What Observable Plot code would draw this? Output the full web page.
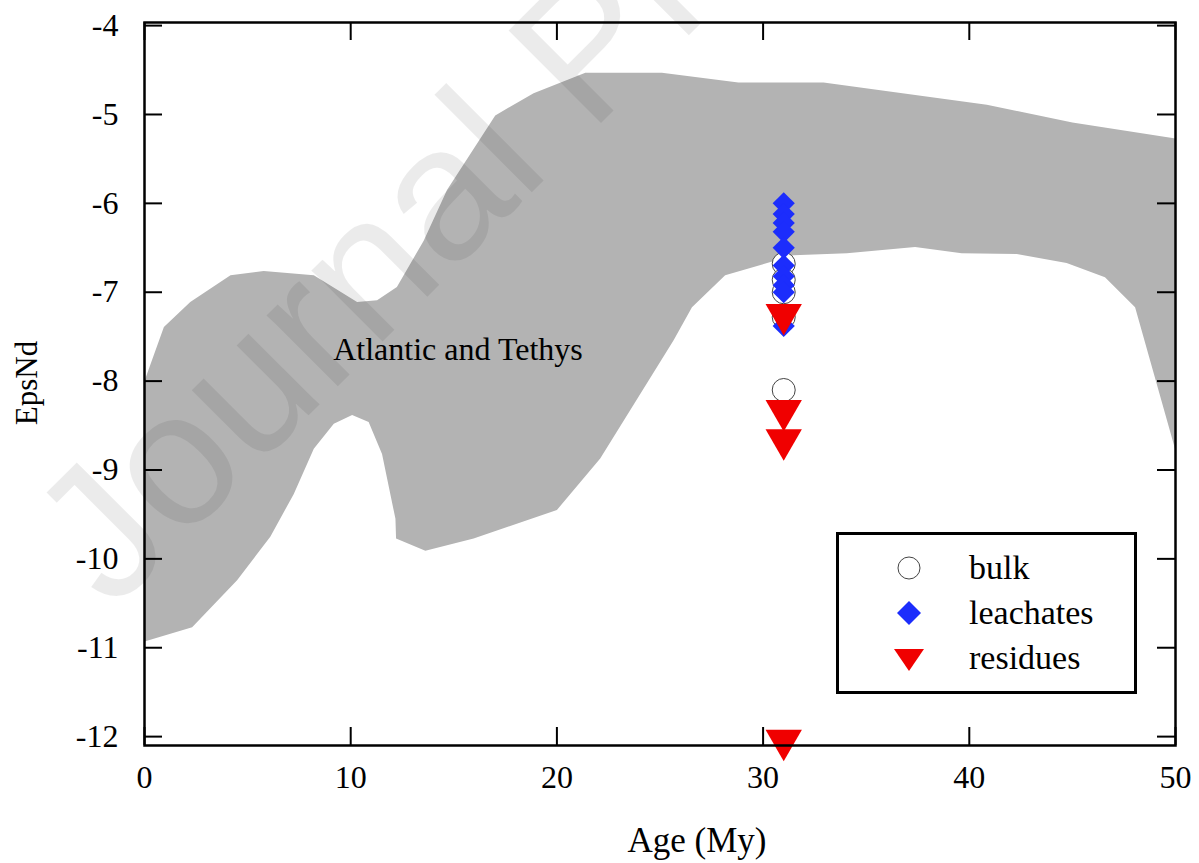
<!DOCTYPE html>
<html><head><meta charset="utf-8">
<script src="https://cdn.jsdelivr.net/npm/d3@7"></script>
<script src="https://cdn.jsdelivr.net/npm/@observablehq/plot@0.6"></script>
<style>
body{margin:0;background:#fff;}
#wrap{position:relative;width:1199px;height:863px;overflow:hidden;}
#legend{position:absolute;left:836px;top:532px;width:295px;height:156px;border:3px solid #000;background:#fff;}
#wm{position:absolute;left:0;top:0;pointer-events:none;}
</style></head><body><div id="wrap"></div>
<script>
// Envelope "Atlantic and Tethys": upper and lower boundaries
const upperAge = [0, 0.94, 2.22, 4.17, 5.78, 8.21, 10.31, 11.28, 12.24, 13.54, 14.67, 17.01, 18.87, 21.38, 25.09, 28.8, 32.93, 40.85, 45.0, 50];
const upperEps = [-8.0, -7.39, -7.11, -6.81, -6.76, -6.81, -7.11, -7.09, -6.94, -6.42, -5.85, -5.01, -4.76, -4.53, -4.53, -4.64, -4.64, -4.89, -5.09, -5.27];
const lowerAge = [50, 48.04, 46.58, 44.72, 42.3, 39.63, 37.37, 34.06, 31.47, 28.16, 26.55, 25.66, 22.1, 20.0, 15.96, 13.62, 12.2, 12.17, 11.52, 10.87, 10.07, 9.18, 8.21, 7.24, 6.1, 4.49, 2.31, 0];
const lowerEps = [-8.78, -7.17, -6.83, -6.67, -6.57, -6.56, -6.49, -6.56, -6.585, -6.81, -7.17, -7.54, -8.87, -9.45, -9.77, -9.91, -9.77, -9.55, -8.82, -8.46, -8.38, -8.48, -8.76, -9.27, -9.75, -10.24, -10.77, -10.93];

// Samples
const sampleAge = 31;
const bulkEps = [-6.68, -6.86, -7.0, -7.28, -8.1];
const leachateEps = [-6.0, -6.12, -6.22, -6.32, -6.5, -6.7, -6.82, -6.92, -7.0, -7.38];
const residueEps = [-7.25, -8.33, -8.66, -12.04];

const xTicks = [0, 10, 20, 30, 40, 50];
const yTicks = [-4, -5, -6, -7, -8, -9, -10, -11, -12];
const legendLabels = ["bulk", "leachates", "residues"];
const regionLabel = "Atlantic and Tethys";
const regionLabelPos = {x: 9.15, y: -7.65};

const envelope = [
  ...upperAge.map((a, i) => ({age: a, eps: upperEps[i]})),
  ...lowerAge.map((a, i) => ({age: a, eps: lowerEps[i]}))
];
const bulk = bulkEps.map(e => ({age: sampleAge, eps: e}));
const leach = leachateEps.map(e => ({age: sampleAge, eps: e}));
const resid = residueEps.map(e => ({age: sampleAge, eps: e}));

const FONT = "'Liberation Serif','Times New Roman',serif";
const BLUE = "#1c2dfc", RED = "#f00000";

const frameH = 863 - 22 - 118, frameW = 1199 - 144 - 24, TL = 18;

const plot = Plot.plot({
  width: 1199, height: 863,
  marginTop: 22, marginRight: 24, marginBottom: 118, marginLeft: 144,
  style: {fontFamily: FONT, fontSize: "32px", background: "white", color: "black"},
  x: {domain: [0, 50], ticks: xTicks, label: null},
  y: {domain: [-12.1, -3.965], ticks: yTicks, label: null},
  marks: [
    Plot.line(envelope, {x: "age", y: "eps", fill: "#b3b3b3", stroke: "none", curve: "linear"}),
    Plot.text([regionLabel], {x: () => regionLabelPos.x, y: () => regionLabelPos.y, text: d => d, textAnchor: "start", fontSize: 32, fill: "black"}),
    // ticks (inward, all four sides)
    Plot.ruleX(xTicks, {x: d => d, insetTop: frameH - TL, stroke: "black", strokeWidth: 2}),
    Plot.ruleX(xTicks, {x: d => d, insetBottom: frameH - TL, stroke: "black", strokeWidth: 2}),
    Plot.ruleY(yTicks, {y: d => d, insetRight: frameW - TL, stroke: "black", strokeWidth: 2}),
    Plot.ruleY(yTicks, {y: d => d, insetLeft: frameW - TL, stroke: "black", strokeWidth: 2}),
    Plot.axisX(xTicks, {tickSize: 0, tickPadding: 20, tickFormat: d => String(d), label: null, fontSize: 32}),
    Plot.axisY(yTicks, {tickSize: 0, tickPadding: 26, tickFormat: d => String(d), label: null, fontSize: 32}),
    Plot.dot(bulk, {x: "age", y: "eps", r: 11.5, fill: "white", stroke: "#444", strokeWidth: 1}),
    Plot.dot(leach, {x: "age", y: "eps", symbol: "diamond2", r: 10, fill: BLUE, stroke: "none"}),
    Plot.dot(resid, {x: "age", y: "eps", symbol: "triangle", r: 13.5, rotate: 180, fill: RED, stroke: "none"}),
    Plot.frame({stroke: "black", strokeWidth: 2.5})
  ]
});
const wrap = document.getElementById("wrap");
wrap.appendChild(plot);

// axis titles
const ns = "http://www.w3.org/2000/svg";
const svg = plot;
function addText(txt, x, y, rot, anchor, size) {
  const t = document.createElementNS(ns, "text");
  t.textContent = txt;
  t.setAttribute("x", x); t.setAttribute("y", y);
  t.setAttribute("text-anchor", anchor);
  t.setAttribute("font-family", FONT);
  t.setAttribute("font-size", size);
  t.setAttribute("fill", "black");
  if (rot) t.setAttribute("transform", `rotate(${rot},${x},${y})`);
  svg.appendChild(t);
}
addText("Age (My)", 697, 852, 0, "middle", 35);
addText("EpsNd", 37, 383, -90, "middle", 31);

// legend
const legend = document.createElement("div");
legend.id = "legend";
const lsym = [
  {label: legendLabels[0], kind: "circle"},
  {label: legendLabels[1], kind: "diamond"},
  {label: legendLabels[2], kind: "triangle"}
];
let lsvg = `<svg width="295" height="156" xmlns="${ns}">`;
lsym.forEach((s, i) => {
  const cy = 33 + i * 45, cx = 70;
  if (s.kind === "circle") lsvg += `<circle cx="${cx}" cy="${cy}" r="11" fill="white" stroke="#444" stroke-width="1"/>`;
  if (s.kind === "diamond") lsvg += `<path d="M${cx},${cy-12}L${cx+12},${cy}L${cx},${cy+12}L${cx-12},${cy}Z" fill="${BLUE}"/>`;
  if (s.kind === "triangle") lsvg += `<path d="M${cx-15},${cy-9}L${cx+15},${cy-9}L${cx},${cy+13}Z" fill="${RED}"/>`;
  lsvg += `<text x="130" y="${cy + 11}" font-family="${FONT.replace(/'/g, "")}" font-size="34" fill="black">${s.label}</text>`;
});
lsvg += `</svg>`;
legend.innerHTML = lsvg;
wrap.appendChild(legend);

// watermark
const wm = document.createElementNS(ns, "svg");
wm.setAttribute("id", "wm");
wm.setAttribute("width", 1199); wm.setAttribute("height", 863);
wm.innerHTML = `<text x="112" y="612" transform="rotate(-45,112,612)" font-family="Liberation Sans, Arial, sans-serif" font-size="190" fill="black" fill-opacity="0.08">Journal Pre-proof</text>`;
wrap.appendChild(wm);
</script>
</body></html>
